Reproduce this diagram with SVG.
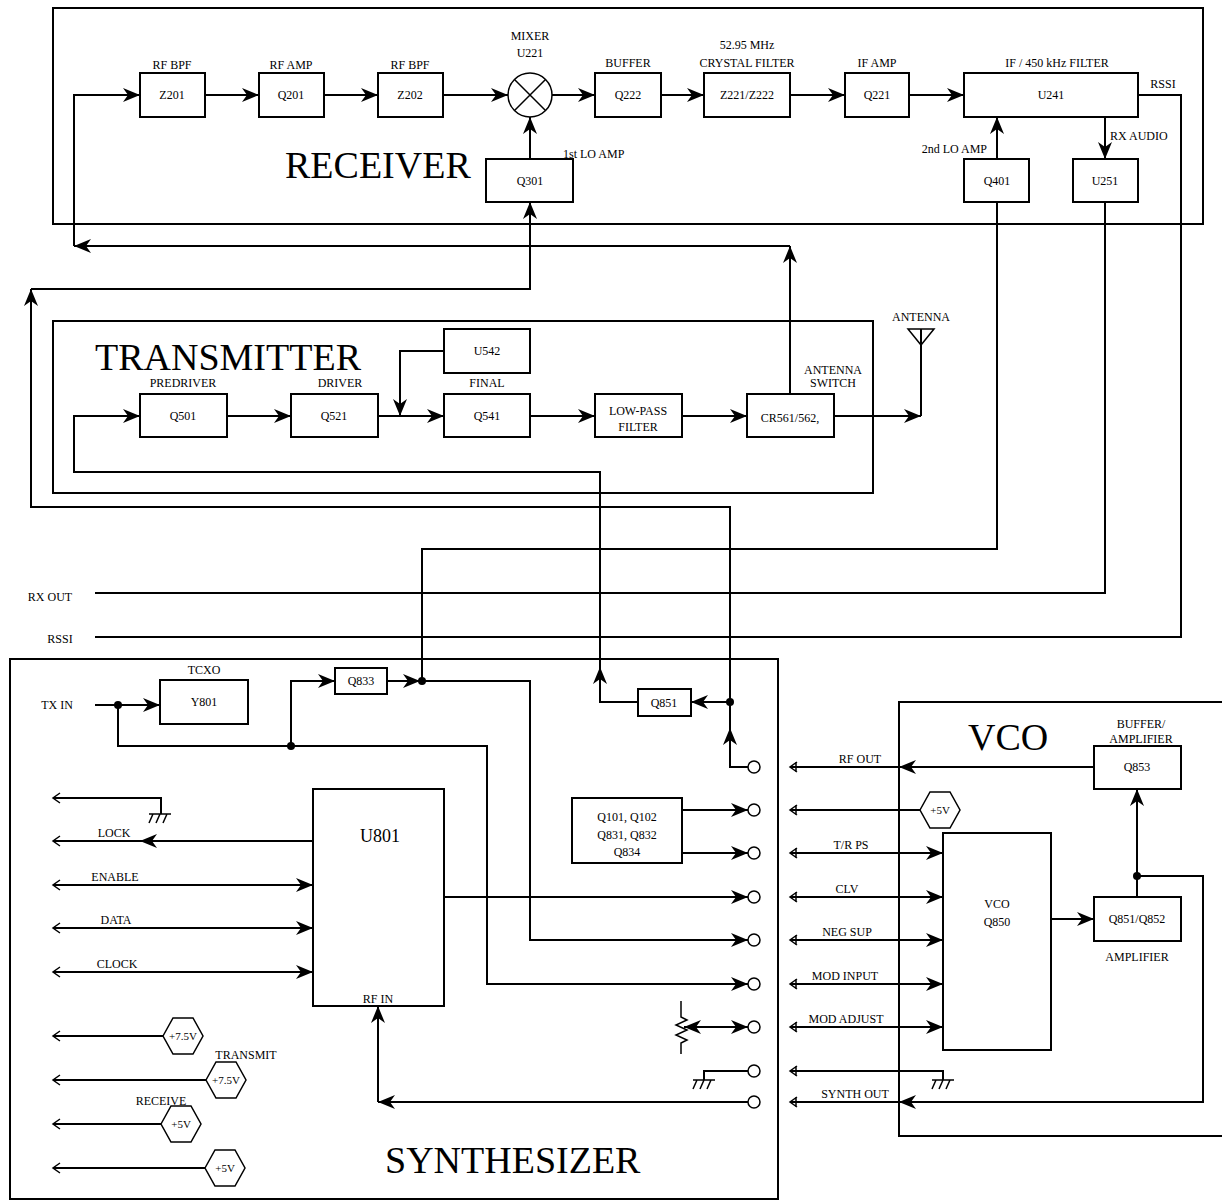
<svg xmlns="http://www.w3.org/2000/svg" xmlns:xlink="http://www.w3.org/1999/xlink" width="1222" height="1201" viewBox="0 0 1222 1201">
<style>
.frame{fill:none;stroke:#000;stroke-width:2}
.box{fill:#fff;stroke:#000;stroke-width:2}
.ln{fill:none;stroke:#000;stroke-width:2}
.arr{fill:none;stroke:#000;stroke-width:2;marker-end:url(#ah)}
.thin{fill:none;stroke:#000;stroke-width:1.5}
.pin{fill:#fff;stroke:#000;stroke-width:1.5}
.dot{fill:#000}
text{font-family:"Liberation Serif","Times New Roman",serif;font-size:12px;fill:#000;text-anchor:middle}
.big{font-size:38px;text-anchor:start}
.u{font-size:18px}
.h{font-size:11px}
</style>
<defs>
<marker id="ah" viewBox="-17 -7 18 14" refX="0" refY="0" markerWidth="18" markerHeight="14" markerUnits="userSpaceOnUse" orient="auto-start-reverse"><path d="M0,0 L-17,-7 L-12,0 L-17,7 Z" fill="#000"/></marker>
<path id="oc" d="M7,-5 L0,0 L7,5" fill="none" stroke="#000" stroke-width="1.5"/>
<path id="ocb" d="M7,-5 L0,0 L7,5 M6,-5 V5" fill="none" stroke="#000" stroke-width="1.5"/>
<path id="gnd" d="M-11,0 H11 M-7,0 L-11,9 M0,0 L-4,9 M7,0 L3,9" fill="none" stroke="#000" stroke-width="1.5"/>
<path id="hex" d="M-20,0 L-10,-18 L10,-18 L20,0 L10,18 L-10,18 Z" fill="#fff" stroke="#000" stroke-width="1.5"/>
</defs>

<g id="containers">
<rect id="receiver" class="frame" x="53" y="8" width="1150" height="216"/>
<rect id="transmitter" class="frame" x="53" y="321" width="820" height="172"/>
<rect id="synthesizer" class="frame" x="10" y="659" width="768" height="540"/>
<rect id="vco-block" class="frame" x="899" y="702" width="340" height="434"/>
<text class="big" x="285" y="178">RECEIVER</text>
<text class="big" x="95" y="370">TRANSMITTER</text>
<text class="big" x="385" y="1173">SYNTHESIZER</text>
<text class="big" x="968" y="750">VCO</text>
</g>

<g id="connectors">
<path class="arr" d="M205 95 H259"/>
<path class="arr" d="M324 95 H378"/>
<path class="arr" d="M443 95 H508"/>
<path class="arr" d="M552 95 H595"/>
<path class="arr" d="M661 95 H704"/>
<path class="arr" d="M790 95 H845"/>
<path class="arr" d="M909 95 H964"/>
<path class="arr" d="M530 159 V117"/>
<path class="arr" d="M997 159 V117"/>
<path class="arr" d="M1105 117 V159"/>
<path class="ln" d="M1138 95 H1181 V637 H95"/>
<path class="ln" d="M1105 202 V593 H95"/>
<path class="ln" d="M997 202 V549 H422 V681"/>
<path class="arr" d="M790 394 V246"/>
<path class="arr" d="M790 246 H74"/>
<path class="arr" d="M74 246 V95 H140"/>
<path class="arr" d="M748 767 H730 V728"/>
<path class="arr" d="M730 728 V507 H31 V289"/>
<path class="arr" d="M31 289 H530 V202"/>
<path class="arr" d="M730 702 H691"/>
<path class="arr" d="M638 702 H600 V667"/>
<path class="arr" d="M600 667 V472 H74 V416 H140"/>
<path class="arr" d="M227 416 H291"/>
<path class="arr" d="M378 416 H444"/>
<path class="arr" d="M444 351 H400 V416"/>
<path class="arr" d="M530 416 H595"/>
<path class="arr" d="M682 416 H747"/>
<path class="arr" d="M834 416 H921"/>
<path class="ln" d="M921 416 V329"/>
<path class="thin" d="M908 329 H934 L921 345 Z"/>
<path class="arr" d="M95 705 H160"/>
<path class="arr" d="M118 705 V746 H487 V984 H748"/>
<path class="arr" d="M291 746 V681 H335"/>
<path class="arr" d="M387 681 H420"/>
<path class="arr" d="M422 681 H530 V940 H748"/>
<path class="arr" d="M444 897 H748"/>
<path class="arr" d="M682 810 H748"/>
<path class="arr" d="M682 853 H748"/>
<path class="arr" d="M748 1102 H378"/>
<path class="arr" d="M378 1102 V1006"/>
<path class="ln" d="M748 1071 H704 V1080"/>
<use xlink:href="#gnd" x="704" y="1080"/>
<path class="ln" d="M684 1027 H748" marker-start="url(#ah)" marker-end="url(#ah)"/>
<path class="thin" d="M681 1001 V1017 L687 1020 L676 1025 L687 1030 L676 1035 L687 1040 L681 1043 V1054"/>
<path class="ln" d="M53 798 H161 V814"/>
<use xlink:href="#gnd" x="160" y="814"/>
<use xlink:href="#oc" x="53" y="798"/>
<path class="ln" d="M313 841 H53"/>
<path class="arr" d="M200 841 H140"/>
<use xlink:href="#oc" x="53" y="841"/>
<path class="arr" d="M53 885 H313"/>
<use xlink:href="#oc" x="53" y="885"/>
<path class="arr" d="M53 928 H313"/>
<use xlink:href="#oc" x="53" y="928"/>
<path class="arr" d="M53 972 H313"/>
<use xlink:href="#oc" x="53" y="972"/>
<path class="ln" d="M53 1036 H163"/>
<use xlink:href="#oc" x="53" y="1036"/>
<path class="ln" d="M53 1080 H206"/>
<use xlink:href="#oc" x="53" y="1080"/>
<path class="ln" d="M53 1124 H161"/>
<use xlink:href="#oc" x="53" y="1124"/>
<path class="ln" d="M53 1168 H205"/>
<use xlink:href="#oc" x="53" y="1168"/>
<path class="arr" d="M1094 767 H899"/>
<path class="ln" d="M899 767 H790"/>
<path class="ln" d="M921 810 H790"/>
<path class="arr" d="M790 853 H943"/>
<path class="arr" d="M790 897 H943"/>
<path class="arr" d="M790 940 H943"/>
<path class="arr" d="M790 984 H943"/>
<path class="arr" d="M790 1027 H943"/>
<path class="ln" d="M790 1071 H943 V1080"/>
<use xlink:href="#gnd" x="943" y="1080"/>
<path class="arr" d="M1137 876 H1203 V1102 H899"/>
<path class="ln" d="M899 1102 H790"/>
<path class="arr" d="M1051 919 H1094"/>
<path class="arr" d="M1137 897 V789"/>
<use xlink:href="#ocb" x="790" y="767"/>
<use xlink:href="#ocb" x="790" y="810"/>
<use xlink:href="#ocb" x="790" y="853"/>
<use xlink:href="#ocb" x="790" y="897"/>
<use xlink:href="#ocb" x="790" y="940"/>
<use xlink:href="#ocb" x="790" y="984"/>
<use xlink:href="#ocb" x="790" y="1027"/>
<use xlink:href="#ocb" x="790" y="1071"/>
<use xlink:href="#ocb" x="790" y="1102"/>
<circle class="dot" cx="118" cy="705" r="4"/>
<circle class="dot" cx="291" cy="746" r="4"/>
<circle class="dot" cx="422" cy="681" r="4"/>
<circle class="dot" cx="730" cy="702" r="4"/>
<circle class="dot" cx="1137" cy="876" r="4"/>
<circle class="pin" cx="754" cy="767" r="6"/>
<circle class="pin" cx="754" cy="810" r="6"/>
<circle class="pin" cx="754" cy="853" r="6"/>
<circle class="pin" cx="754" cy="897" r="6"/>
<circle class="pin" cx="754" cy="940" r="6"/>
<circle class="pin" cx="754" cy="984" r="6"/>
<circle class="pin" cx="754" cy="1027" r="6"/>
<circle class="pin" cx="754" cy="1071" r="6"/>
<circle class="pin" cx="754" cy="1102" r="6"/>
</g>

<g id="Z201"><rect class="box" x="140" y="73" width="65" height="44"/><text x="172" y="69">RF BPF</text><text x="172" y="99">Z201</text></g>
<g id="Q201"><rect class="box" x="259" y="73" width="65" height="44"/><text x="291" y="69">RF AMP</text><text x="291" y="99">Q201</text></g>
<g id="Z202"><rect class="box" x="378" y="73" width="65" height="44"/><text x="410" y="69">RF BPF</text><text x="410" y="99">Z202</text></g>
<g id="U221"><circle cx="530" cy="95" r="22" fill="#fff" stroke="#000" stroke-width="1.5"/><path class="thin" d="M514.5 79.5 L545.5 110.5 M545.5 79.5 L514.5 110.5"/><text x="530" y="40">MIXER</text><text x="530" y="57">U221</text></g>
<g id="Q222"><rect class="box" x="595" y="73" width="66" height="44"/><text x="628" y="67">BUFFER</text><text x="628" y="99">Q222</text></g>
<g id="Z221"><rect class="box" x="704" y="73" width="86" height="44"/><text x="747" y="49">52.95 MHz</text><text x="747" y="67">CRYSTAL FILTER</text><text x="747" y="99">Z221/Z222</text></g>
<g id="Q221"><rect class="box" x="845" y="73" width="64" height="44"/><text x="877" y="67">IF AMP</text><text x="877" y="99">Q221</text></g>
<g id="U241"><rect class="box" x="964" y="73" width="174" height="44"/><text x="1057" y="67">IF / 450 kHz FILTER</text><text x="1051" y="99">U241</text><text x="1163" y="88">RSSI</text><text x="1110" y="140" style="text-anchor:start">RX AUDIO</text></g>
<g id="Q301"><rect class="box" x="486" y="159" width="87" height="43"/><text x="530" y="185">Q301</text><text x="563" y="158" style="text-anchor:start">1st LO AMP</text></g>
<g id="Q401"><rect class="box" x="964" y="159" width="65" height="43"/><text x="997" y="185">Q401</text><text x="987" y="153" style="text-anchor:end">2nd LO AMP</text></g>
<g id="U251"><rect class="box" x="1073" y="159" width="65" height="43"/><text x="1105" y="185">U251</text></g>

<g id="U542"><rect class="box" x="444" y="329" width="86" height="44"/><text x="487" y="355">U542</text></g>
<g id="Q501"><rect class="box" x="140" y="394" width="87" height="43"/><text x="183" y="387">PREDRIVER</text><text x="183" y="420">Q501</text></g>
<g id="Q521"><rect class="box" x="291" y="394" width="87" height="43"/><text x="340" y="387">DRIVER</text><text x="334" y="420">Q521</text></g>
<g id="Q541"><rect class="box" x="444" y="394" width="86" height="43"/><text x="487" y="387">FINAL</text><text x="487" y="420">Q541</text></g>
<g id="LPF"><rect class="box" x="595" y="394" width="87" height="43"/><text x="638" y="415">LOW-PASS</text><text x="638" y="431">FILTER</text></g>
<g id="CR561"><rect class="box" x="747" y="394" width="87" height="43"/><text x="790" y="422">CR561/562,</text><text x="833" y="374">ANTENNA</text><text x="833" y="387">SWITCH</text></g>
<g id="antenna"><text x="921" y="321">ANTENNA</text></g>

<g id="io-labels"><text x="50" y="601">RX OUT</text><text x="60" y="643">RSSI</text><text x="57" y="709">TX IN</text></g>

<g id="Y801"><rect class="box" x="160" y="680" width="88" height="44"/><text x="204" y="674">TCXO</text><text x="204" y="706">Y801</text></g>
<g id="Q833"><rect class="box" x="335" y="668" width="52" height="26"/><text x="361" y="685">Q833</text></g>
<g id="Q851"><rect class="box" x="638" y="689" width="53" height="27"/><text x="664" y="707">Q851</text></g>
<g id="Q101"><rect class="box" x="572" y="798" width="110" height="65"/><text x="627" y="821">Q101, Q102</text><text x="627" y="839">Q831, Q832</text><text x="627" y="856">Q834</text></g>
<g id="U801"><rect class="box" x="313" y="789" width="131" height="217"/><text class="u" x="380" y="842">U801</text><text x="378" y="1003">RF IN</text></g>
<g id="synth-labels"><text x="114" y="837">LOCK</text><text x="115" y="881">ENABLE</text><text x="116" y="924">DATA</text><text x="117" y="968">CLOCK</text><text x="246" y="1059">TRANSMIT</text><text x="161" y="1105">RECEIVE</text></g>
<g id="supplies">
<use xlink:href="#hex" x="183" y="1036"/><text class="h" x="183" y="1040">+7.5V</text>
<use xlink:href="#hex" x="226" y="1080"/><text class="h" x="226" y="1084">+7.5V</text>
<use xlink:href="#hex" x="181" y="1124"/><text class="h" x="181" y="1128">+5V</text>
<use xlink:href="#hex" x="225" y="1168"/><text class="h" x="225" y="1172">+5V</text>
<use xlink:href="#hex" x="940" y="810"/><text class="h" x="940" y="814">+5V</text>
</g>

<g id="Q853"><rect class="box" x="1094" y="746" width="87" height="43"/><text x="1141" y="728">BUFFER/</text><text x="1141" y="743">AMPLIFIER</text><text x="1137" y="771">Q853</text></g>
<g id="Q850"><rect class="box" x="943" y="833" width="108" height="217"/><text x="997" y="908">VCO</text><text x="997" y="926">Q850</text></g>
<g id="Q851-852"><rect class="box" x="1094" y="897" width="87" height="44"/><text x="1137" y="923">Q851/Q852</text><text x="1137" y="961">AMPLIFIER</text></g>
<g id="vco-labels"><text x="860" y="763">RF OUT</text><text x="851" y="849">T/R PS</text><text x="847" y="893">CLV</text><text x="847" y="936">NEG SUP</text><text x="845" y="980">MOD INPUT</text><text x="846" y="1023">MOD ADJUST</text><text x="855" y="1098">SYNTH OUT</text></g>
</svg>
